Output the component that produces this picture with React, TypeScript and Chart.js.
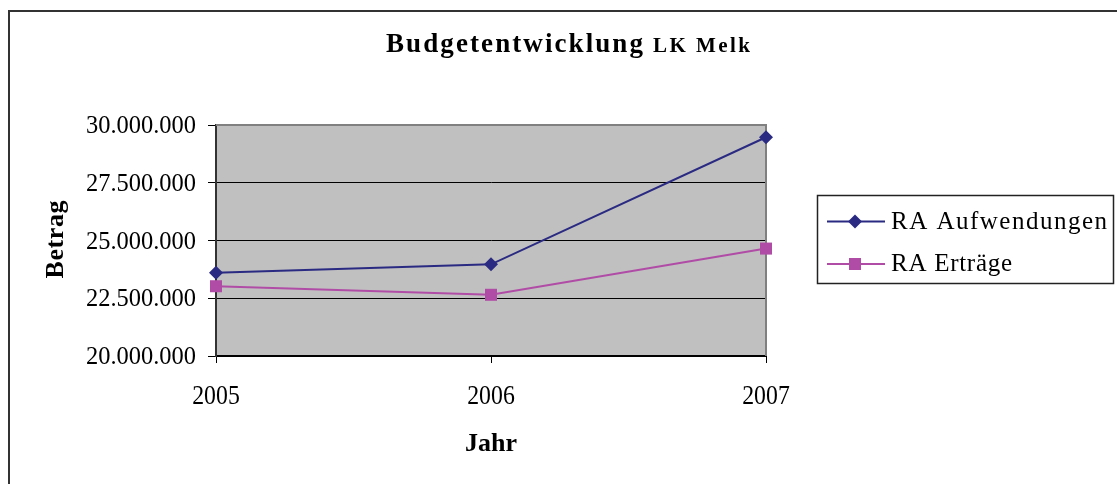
import React, { useEffect, useRef } from 'react';
import { Chart, registerables } from 'chart.js';

Chart.register(...registerables);

// ---- data ----
const years = ['2005', '2006', '2007'];
const aufwendungen = [23600000, 23970000, 29470000];
const ertraege = [23020000, 22650000, 24650000];
const seriesNames = ['RA Aufwendungen', 'RA Erträge'];
const yMin = 20000000;
const yMax = 30000000;
const yStep = 2500000;
const titleMain = 'Budgetentwicklung';
const titleSub = 'LK Melk';
const xTitle = 'Jahr';
const yTitle = 'Betrag';

// ---- styles ----
const SERIF = "'Liberation Serif', 'Times New Roman', serif";
const NAVY = '#2A2A82';
const MAGENTA = '#B04CA6';
const PLOT_FILL = '#C0C0C0';
const W = 1117;
const H = 484;

function fmt(v: number): string {
  return String(Math.round(v)).replace(/\B(?=(\d{3})+(?!\d))/g, '.');
}

// spread text with letter spacing to a given width (left aligned)
function spreadText(ctx: CanvasRenderingContext2D, text: string, x: number, y: number, width: number) {
  ctx.letterSpacing = '0px';
  ctx.textAlign = 'left';
  const natural = ctx.measureText(text).width;
  const n = Array.from(text).length;
  const sp = n > 1 ? (width - natural) / (n - 1) : 0;
  ctx.letterSpacing = sp.toFixed(2) + 'px';
  ctx.fillText(text, x, y);
  ctx.letterSpacing = '0px';
}

// draw text horizontally scaled by sx, anchored by align
function squeezeText(
  ctx: CanvasRenderingContext2D,
  text: string,
  x: number,
  y: number,
  sx: number,
  align: 'left' | 'right' | 'center'
) {
  ctx.save();
  ctx.letterSpacing = '0px';
  ctx.textAlign = align;
  ctx.translate(x, y);
  ctx.scale(sx, 1);
  ctx.fillText(text, 0, 0);
  ctx.restore();
}

function drawMarker(ctx: CanvasRenderingContext2D, kind: string, x: number, y: number, color: string) {
  ctx.fillStyle = color;
  ctx.beginPath();
  if (kind === 'diamond') {
    const r = 7;
    ctx.moveTo(x - r, y);
    ctx.lineTo(x, y - r);
    ctx.lineTo(x + r, y);
    ctx.lineTo(x, y + r);
    ctx.closePath();
  } else {
    const s = 6;
    ctx.rect(x - s, y - s, 2 * s, 2 * s);
  }
  ctx.fill();
}

const decor = {
  id: 'decor',
  beforeDraw(chart: any) {
    const { ctx, chartArea: a } = chart;
    ctx.save();
    ctx.fillStyle = '#ffffff';
    ctx.fillRect(0, 0, chart.width, chart.height);
    ctx.fillStyle = PLOT_FILL;
    ctx.fillRect(a.left, a.top, a.right - a.left, a.bottom - a.top);
    // outer frame
    ctx.strokeStyle = '#333333';
    ctx.lineWidth = 2;
    ctx.beginPath();
    ctx.moveTo(9, chart.height + 2);
    ctx.lineTo(9, 11);
    ctx.lineTo(chart.width + 2, 11);
    ctx.stroke();
    ctx.restore();
  },
  beforeDatasetsDraw(chart: any) {
    const { ctx, chartArea: a } = chart;
    ctx.save();
    ctx.strokeStyle = '#808080';
    ctx.lineWidth = 2;
    ctx.beginPath();
    ctx.moveTo(a.left, a.top);
    ctx.lineTo(a.right, a.top);
    ctx.lineTo(a.right, a.bottom);
    ctx.stroke();
    ctx.restore();
  },
  afterDraw(chart: any) {
    const { ctx, chartArea: a } = chart;
    const xs = chart.scales.x;
    const ys = chart.scales.y;
    ctx.save();
    ctx.fillStyle = '#000000';
    ctx.textBaseline = 'alphabetic';

    // tick labels (y)
    ctx.font = `26px ${SERIF}`;
    for (const t of ys.ticks) {
      const py = ys.getPixelForValue(t.value);
      squeezeText(ctx, fmt(t.value), 196, py + 8, 0.94, 'right');
    }
    // tick labels (x)
    ctx.font = `27px ${SERIF}`;
    xs.ticks.forEach((t: any, i: number) => {
      const px = xs.getPixelForTick(i);
      squeezeText(ctx, String(xs.getLabelForValue(t.value)), px, 404, 0.88, 'center');
    });

    // title
    ctx.font = `bold 27px ${SERIF}`;
    spreadText(ctx, titleMain, 386, 52, 257);
    ctx.font = `bold 21px ${SERIF}`;
    spreadText(ctx, titleSub, 653, 52, 97);

    // x axis title
    ctx.font = `bold 26px ${SERIF}`;
    const cx = (a.left + a.right) / 2;
    squeezeText(ctx, xTitle, cx, 451, 1, 'center');

    // y axis title
    ctx.save();
    ctx.translate(63, (a.top + a.bottom) / 2 - 1);
    ctx.rotate(-Math.PI / 2);
    ctx.font = `bold 26px ${SERIF}`;
    spreadText(ctx, yTitle, -39, 0, 78);
    ctx.restore();

    // legend
    ctx.strokeStyle = '#222222';
    ctx.lineWidth = 1.5;
    ctx.strokeRect(817.5, 195.5, 296, 88);
    const rows = [
      { name: seriesNames[0], color: NAVY, kind: 'diamond', y: 221.5, w: 216 },
      { name: seriesNames[1], color: MAGENTA, kind: 'square', y: 264, w: 121 },
    ];
    for (const r of rows) {
      ctx.strokeStyle = r.color;
      ctx.lineWidth = 2;
      ctx.beginPath();
      ctx.moveTo(827, r.y);
      ctx.lineTo(885, r.y);
      ctx.stroke();
      drawMarker(ctx, r.kind, 855, r.y, r.color);
      ctx.fillStyle = '#000000';
      ctx.font = `25px ${SERIF}`;
      spreadText(ctx, r.name, 891, r.y + 7, r.w);
    }
    ctx.restore();
  },
};

export default function App() {
  const ref = useRef<HTMLCanvasElement | null>(null);

  useEffect(() => {
    if (!ref.current) return;
    const chart = new Chart(ref.current, {
      type: 'line',
      data: {
        labels: years,
        datasets: [
          {
            label: seriesNames[0],
            data: aufwendungen,
            borderColor: NAVY,
            backgroundColor: NAVY,
            borderWidth: 2,
            pointStyle: 'rectRot',
            pointRadius: 7,
            pointHoverRadius: 7,
            pointBorderWidth: 0,
            tension: 0,
            clip: false as any,
          },
          {
            label: seriesNames[1],
            data: ertraege,
            borderColor: MAGENTA,
            backgroundColor: MAGENTA,
            borderWidth: 2,
            pointStyle: 'rect',
            pointRadius: 8.5,
            pointHoverRadius: 8.5,
            pointBorderWidth: 0,
            tension: 0,
            clip: false as any,
          },
        ],
      },
      options: {
        animation: false,
        responsive: false,
        devicePixelRatio: 1,
        events: [],
        layout: { padding: { top: 125, right: 351, bottom: 28, left: 0 } },
        plugins: {
          legend: { display: false },
          title: { display: false },
          tooltip: { enabled: false },
        },
        scales: {
          x: {
            type: 'category',
            offset: false,
            afterFit: (scale: any) => {
              scale.height = 100;
            },
            grid: {
              drawOnChartArea: false,
              drawTicks: true,
              tickLength: 7,
              tickColor: '#000000',
              tickWidth: 1,
            },
            border: { color: '#000000', width: 2 },
            ticks: {
              color: 'rgba(0,0,0,0)',
              font: { family: SERIF, size: 24 },
              padding: 17,
              maxRotation: 0,
            },
          },
          y: {
            min: yMin,
            max: yMax,
            afterFit: (scale: any) => {
              scale.width = 216;
            },
            grid: {
              color: (c: any) => (c.tick && c.tick.value === yMax ? '#808080' : '#000000'),
              lineWidth: 1,
              drawTicks: true,
              tickLength: 8,
              tickColor: '#000000',
            },
            border: { color: '#333333', width: 2 },
            ticks: {
              stepSize: yStep,
              color: 'rgba(0,0,0,0)',
              font: { family: SERIF, size: 24 },
              padding: 12,
              callback: (v: any) => fmt(Number(v)),
            },
          },
        },
      },
      plugins: [decor],
    });
    return () => chart.destroy();
  }, []);

  return (
    <div style={{ position: 'fixed', left: 0, top: 0, width: W, height: H, background: '#fff' }}>
      <canvas ref={ref} width={W} height={H} style={{ display: 'block', width: W, height: H }} />
    </div>
  );
}
